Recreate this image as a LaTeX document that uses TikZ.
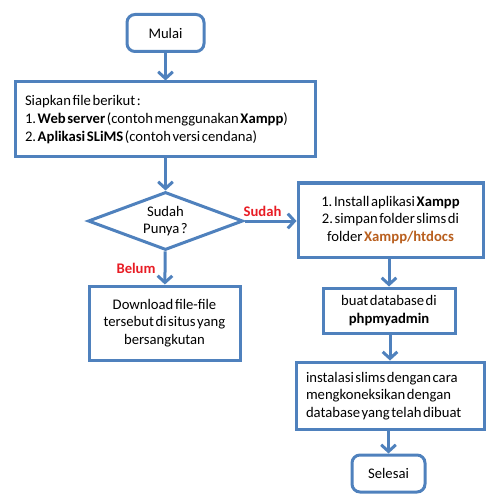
\documentclass[tikz,border=0pt]{standalone}
\usepackage{fontspec}
\setmainfont{Carlito}
\usetikzlibrary{shapes.geometric,arrows.meta}
\definecolor{garis}{RGB}{79,129,189}
\definecolor{merah}{RGB}{232,28,36}
\definecolor{coklat}{RGB}{185,95,30}
\frenchspacing
\newcommand{\hurufbagan}{\fontsize{11}{13.2}\selectfont}
\newcommand{\spasirapat}{\spaceskip=1.2pt plus 0.5pt minus 0.3pt\relax}
\tikzset{
	kotak/.style={draw=garis, line width=2.25pt, fill=white, align=center,
		font=\hurufbagan, inner sep=2pt, execute at begin node=\spasirapat},
	bulat/.style={kotak, rounded corners=6pt},
	keputusan/.style={kotak, diamond, aspect=2.6, inner sep=0pt},
	panah/.style={draw=garis, line width=2.25pt,
		-{Straight Barb[length=5pt,width=11pt]}},
	ket/.style={text=merah, font=\hurufbagan\bfseries, inner sep=2pt},
}
\begin{document}
\begin{tikzpicture}[x=0.75pt, y=-0.75pt]
			\useasboundingbox (0,0) rectangle (499,502);
			% kolom kiri
			\node[bulat, minimum width=57.75pt, minimum height=27.75pt] (mulai) at (165.5,33) {Mulai};
			\node[kotak, minimum height=56.25pt, text width=210pt, align=left, inner sep=7.5pt] (siapkan) at (165,119.5)
				{Siapkan file berikut :\\
				1. \textbf{Web server} (contoh menggunakan \textbf{Xampp})\\
				2. \textbf{Aplikasi SLiMS} (contoh versi cendana)};
			\node[keputusan, minimum width=116.25pt, minimum height=43.5pt] (punya) at (165.5,221) {Sudah\\Punya ?};
			\node[kotak, minimum width=113.25pt, minimum height=55.5pt] (unduh) at (164.5,323)
				{Download file-file\\tersebut di situs yang\\bersangkutan};
			% kolom kanan
			\node[kotak, minimum width=138.75pt, minimum height=55.5pt] (install) at (390.5,220)
				{1. Install aplikasi \textbf{Xampp}\\
				2. simpan folder slims di\\
				folder \textbf{\textcolor{coklat}{Xampp/htdocs}}};
			\node[kotak, minimum width=99pt, minimum height=33.75pt] (db) at (389,310.5)
				{buat database di\\\textbf{phpmyadmin}};
			\node[kotak, minimum height=43.5pt, text width=126pt, align=left, inner sep=7.5pt] (slims) at (390,396)
				{instalasi slims dengan cara\\mengkoneksikan dengan\\database yang telah dibuat};
			\node[bulat, minimum width=54.75pt, minimum height=27.75pt] (selesai) at (388.5,473.5) {Selesai};
			% panah
			\draw[panah] (mulai) -- (mulai |- siapkan.north);
			\draw[panah] (siapkan.south -| punya) -- (punya);
			\draw[panah] (punya) -- node[ket, left, xshift=-4pt]{Belum} (unduh);
			\draw[panah] (punya.east) -- node[ket, above, xshift=-6pt]{Sudah} (punya.east -| install.west);
			\draw[panah] (install.south -| db) -- (db);
			\draw[panah] (db.south -| slims) -- (slims);
			\draw[panah] (slims.south -| selesai) -- (selesai);
		\end{tikzpicture}
\end{document}
